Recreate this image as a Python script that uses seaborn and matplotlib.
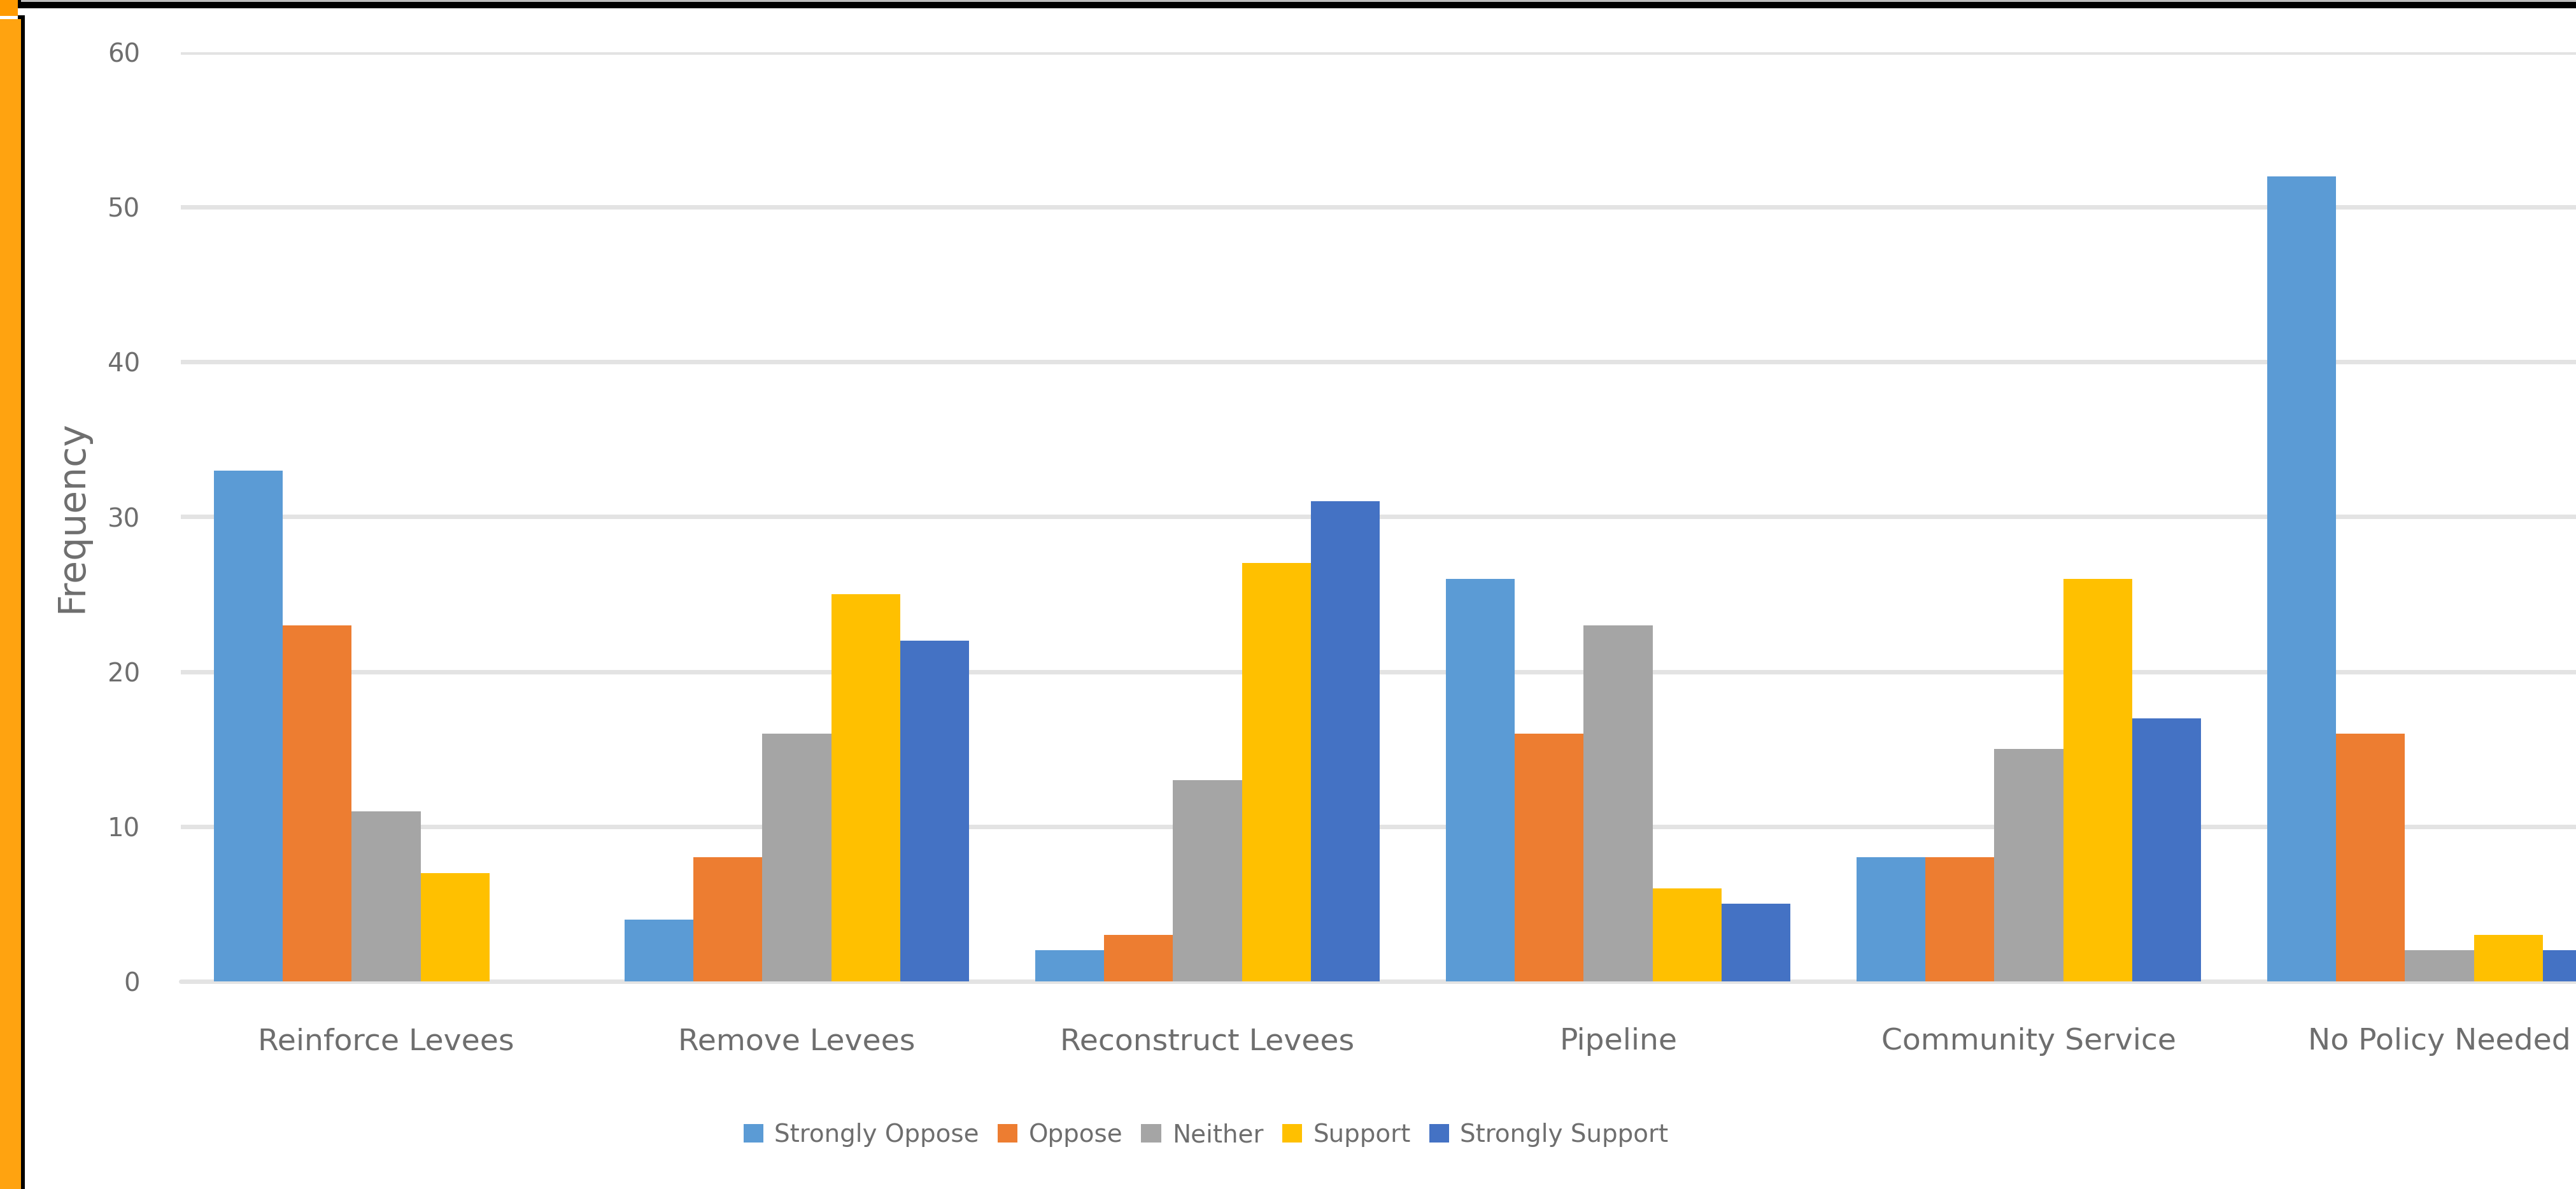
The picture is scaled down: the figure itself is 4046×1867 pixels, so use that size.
import numpy as np
import pandas as pd
import matplotlib
matplotlib.use("Agg")
import matplotlib.pyplot as plt
import seaborn as sns
from matplotlib.patches import Rectangle

# ---------------- data ----------------
categories = ["Reinforce Levees", "Remove Levees", "Reconstruct Levees",
              "Pipeline", "Community Service", "No Policy Needed"]
responses = ["Strongly Oppose", "Oppose", "Neither", "Support", "Strongly Support"]
strongly_oppose = [33, 4, 2, 26, 8, 52]
oppose = [23, 8, 3, 16, 8, 16]
neither = [11, 16, 13, 23, 15, 2]
support = [7, 25, 27, 6, 26, 3]
strongly_support = [0, 22, 31, 5, 17, 2]
y_ticks = [0, 10, 20, 30, 40, 50, 60]
colors = ["#5B9BD5", "#ED7D31", "#A5A5A5", "#FFC000", "#4472C4"]

series = [strongly_oppose, oppose, neither, support, strongly_support]
rows = []
for resp, vals in zip(responses, series):
    for cat, v in zip(categories, vals):
        rows.append({"Policy": cat, "Response": resp, "Frequency": v})
df = pd.DataFrame(rows)

# ---------------- figure ----------------
sns.set_theme(style="white")
plt.rcParams["font.family"] = ["DejaVu Sans"]

W, H = 4046, 1867
fig = plt.figure(figsize=(W / 100, H / 100), dpi=100)
fig.patch.set_facecolor("white")


def fx(x):
    return x / W


def fy(y):
    return 1 - y / H


# axes placement (pixel geometry of the plot area)
ax_left, ax_right = 284, 4154
ax_top, ax_bottom = 82, 1541
ax = fig.add_axes([fx(ax_left), fy(ax_bottom), (ax_right - ax_left) / W,
                   (ax_bottom - ax_top) / H])
ax.set_facecolor("white")

sns.barplot(data=df, x="Policy", y="Frequency", hue="Response",
            order=categories, hue_order=responses, palette=colors,
            width=0.84, saturation=1, linewidth=0, errorbar=None, ax=ax)

ax.set_xlim(-0.5, 5.5)
ax.set_ylim(0, 60)
ax.set_yticks(y_ticks)
ax.yaxis.grid(True, color="#E3E3E3", linewidth=5)
ax.set_axisbelow(True)
ax.axhline(0, color="#E3E3E3", linewidth=5, zorder=0.6, clip_on=False)
for s in ax.spines.values():
    s.set_visible(False)

txt = "#6E6E6E"
ax.tick_params(axis="y", length=0, pad=46, labelsize=29, labelcolor=txt)
ax.tick_params(axis="x", length=0, pad=52, labelsize=34, labelcolor=txt)
ax.set_xlabel("")
ax.set_ylabel("Frequency", fontsize=42, color=txt, labelpad=20)

handles, labels = ax.get_legend_handles_labels()
if ax.get_legend() is not None:
    ax.get_legend().remove()
fig.legend(handles, labels, loc="center",
           bbox_to_anchor=(fx(1894), fy(1782)), ncol=5, frameon=False,
           fontsize=28, handlelength=0.8, handleheight=0.8,
           handletextpad=0.45, columnspacing=0.75, labelcolor=txt)

# ---------------- frame decorations ----------------
def rect(x0, y0, x1, y1, color):
    fig.patches.append(Rectangle((fx(x0), fy(y1)), (x1 - x0) / W, (y1 - y0) / H,
                                 transform=fig.transFigure, color=color,
                                 linewidth=0, zorder=10))


rect(33, 0, W, 3, "#BDBDBD")
rect(30, 3, W, 13, "#000000")
rect(0, 0, 28, 25, "#FF9A00")
rect(28, 0, 33, 13, "#000000")
rect(28, 24, 39, 30, "#000000")
rect(0, 30, 33, H, "#FFA310")
rect(33, 25, 39, H, "#000000")

fig.savefig("out.png", dpi=100, facecolor="white")
